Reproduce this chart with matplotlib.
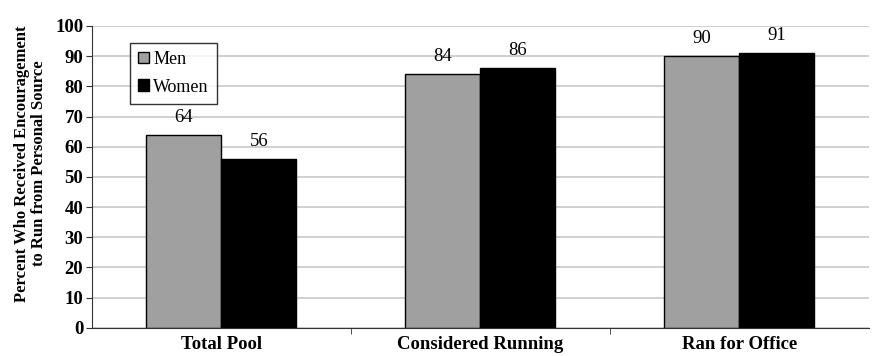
import numpy as np
import matplotlib
matplotlib.use("Agg")
from matplotlib import pyplot as plt

plt.rcParams['font.family'] = ['Liberation Serif', 'DejaVu Serif']

categories = ["Total Pool", "Considered Running", "Ran for Office"]
men = [64, 84, 90]
women = [56, 86, 91]

fig = plt.figure(figsize=(8.73, 3.56), dpi=100)
ax = fig.add_axes([0.105, 0.079, 0.89, 0.848])

x = np.arange(len(categories))
w = 0.29
ax.bar(x - w / 2, men, w, color="#a0a0a0", edgecolor="black", linewidth=1, label="Men", zorder=3)
ax.bar(x + w / 2, women, w, color="black", edgecolor="black", linewidth=1, label="Women", zorder=3)

for xi, v in zip(x - w / 2, men):
    ax.text(xi, v + 3, str(v), ha="center", va="bottom", fontsize=13.5)
for xi, v in zip(x + w / 2, women):
    ax.text(xi, v + 3, str(v), ha="center", va="bottom", fontsize=13.5)

ax.set_xlim(-0.5, 2.5)
ax.set_ylim(0, 100)
ax.set_yticks(range(0, 101, 10))
ax.set_yticklabels([str(t) for t in range(0, 101, 10)], fontweight="bold", fontsize=13.5)
ax.set_xticks(x)
ax.set_xticklabels(categories, fontweight="bold", fontsize=13.5)
ax.set_xticks([0.5, 1.5], minor=True)
ax.tick_params(axis="x", which="major", length=0, pad=6)
ax.tick_params(axis="x", which="minor", length=4, direction="out", color="#333333")
ax.tick_params(axis="y", length=4, direction="out", color="#333333", pad=2)

ax.grid(axis="y", color="#c8c8c8", linewidth=1.2, zorder=0)
ax.set_axisbelow(True)
for s in ["top", "right"]:
    ax.spines[s].set_visible(False)
for s in ["left", "bottom"]:
    ax.spines[s].set_color("#333333")
    ax.spines[s].set_zorder(4)

ax.set_ylabel("Percent Who Received Encouragement\nto Run from Personal Source",
              fontweight="bold", fontsize=12, linespacing=1.05)
ax.yaxis.set_label_coords(-0.058, 0.545)

leg = ax.legend(loc="upper left", bbox_to_anchor=(0.049, 0.945), fontsize=13,
                frameon=True, fancybox=False, edgecolor="black", handlelength=0.6,
                handleheight=0.6, handletextpad=0.25, borderpad=0.45, labelspacing=0.6,
                borderaxespad=0)
leg.get_frame().set_linewidth(1)

fig.savefig("out.png", dpi=100)
